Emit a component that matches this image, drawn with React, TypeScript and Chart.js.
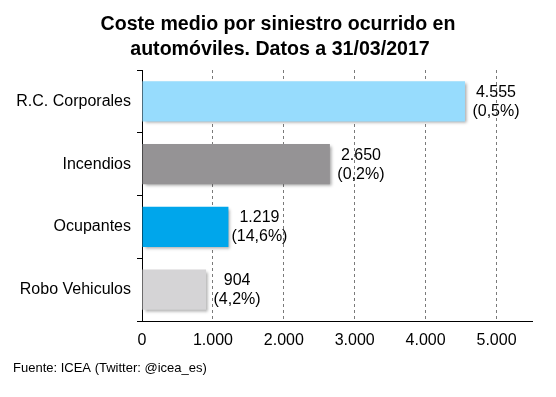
import React, { useEffect, useRef } from "react";
import { Chart, registerables } from "chart.js";

Chart.register(...registerables);

const titleLines = ["Coste medio por siniestro ocurrido en", "automóviles. Datos a 31/03/2017"];
const categories = ["R.C. Corporales", "Incendios", "Ocupantes", "Robo Vehiculos"];
const values = [4555, 2650, 1219, 904];
const pctLabels = ["(0,5%)", "(0,2%)", "(14,6%)", "(4,2%)"];
const barColors = ["#97dcfd", "#959395", "#00a6eb", "#d5d4d6"];
const xTickValues = [0, 1000, 2000, 3000, 4000, 5000];
const xMax = 5500;
const footerText = "Fuente: ICEA (Twitter: @icea_es)";

const fmt = (v: number) => String(Math.round(v)).replace(/\B(?=(\d{3})+(?!\d))/g, ".");
const FONT = "Arial, 'Liberation Sans', sans-serif";

export default function App() {
  const ref = useRef<HTMLCanvasElement>(null);
  useEffect(() => {
    document.body.style.margin = "0";
    const canvas = ref.current!;
    const shadowPlugin = {
      id: "shadow",
      beforeDatasetsDraw(chart: any) {
        const c = chart.ctx;
        c.save();
        c.shadowColor = "rgba(0,0,0,0.35)";
        c.shadowBlur = 3;
        c.shadowOffsetX = 2;
        c.shadowOffsetY = 2;
      },
      afterDatasetsDraw(chart: any) {
        chart.ctx.restore();
      },
    };
    const textPlugin = {
      id: "texts",
      afterDraw(chart: any) {
        const c = chart.ctx;
        c.save();
        c.fillStyle = "#000";
        c.textAlign = "center";
        c.textBaseline = "alphabetic";
        c.font = `bold 19.6px ${FONT}`;
        c.fillText(titleLines[0], 278, 30);
        c.fillText(titleLines[1], 280, 55);
        c.font = `16px ${FONT}`;
        c.textBaseline = "middle";
        const meta = chart.getDatasetMeta(0);
        meta.data.forEach((bar: any, i: number) => {
          const x = bar.x + 31;
          c.fillText(fmt(values[i]), x, bar.y - 9);
          c.fillText(pctLabels[i], x, bar.y + 10);
        });
        c.textAlign = "left";
        c.textBaseline = "alphabetic";
        c.font = `13px ${FONT}`;
        c.fillText(footerText, 13, 372);
        c.restore();
      },
    };
    const chart = new Chart(canvas, {
      type: "bar",
      data: {
        labels: categories,
        datasets: [
          {
            data: values,
            backgroundColor: barColors,
            categoryPercentage: 1,
            barPercentage: 0.64,
          },
        ],
      },
      options: {
        indexAxis: "y",
        animation: false,
        responsive: false,
        layout: { padding: { top: 70, right: 24, bottom: 0, left: 0 } },
        plugins: { legend: { display: false }, title: { display: false }, tooltip: { enabled: false } },
        scales: {
          y: {
            type: "category",
            grid: { drawOnChartArea: false, drawTicks: true, tickLength: 5, color: "#000", offset: true },
            border: { color: "#000", width: 1 },
            ticks: { color: "#000", font: { size: 16, family: FONT }, padding: 6 },
            afterFit: (s: any) => {
              s.width = 142;
            },
          },
          x: {
            type: "linear",
            min: 0,
            max: xMax,
            afterBuildTicks: (s: any) => {
              s.ticks = xTickValues.map((v) => ({ value: v }));
            },
            grid: {
              drawTicks: false,
              color: (ctx: any) => (ctx.tick && ctx.tick.value === 0 ? "rgba(0,0,0,0)" : "#7a7a7a"),
            },
            border: { color: "#000", width: 1, dash: [3, 3] },
            ticks: {
              color: "#000",
              font: { size: 16, family: FONT },
              padding: 10,
              maxRotation: 0,
              autoSkip: false,
              callback: (v: any) => fmt(Number(v)),
            },
            afterFit: (s: any) => {
              s.height = 76;
            },
          },
        },
      } as any,
      plugins: [shadowPlugin, textPlugin],
    });
    return () => chart.destroy();
  }, []);
  return (
    <div style={{ width: 556, height: 397, background: "#fff" }}>
      <canvas ref={ref} width={556} height={397} style={{ display: "block" }} />
    </div>
  );
}
